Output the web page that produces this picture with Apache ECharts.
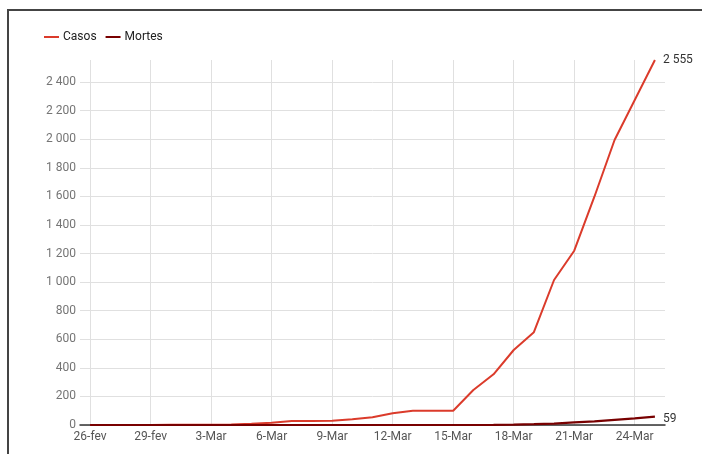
<!DOCTYPE html>
<html>
<head>
<meta charset="utf-8">
<script src="https://cdn.jsdelivr.net/npm/echarts@6/dist/echarts.min.js"></script>
<style>
html,body{margin:0;padding:0;background:#fff;}
#chart{width:702px;height:454px;}
</style>
</head>
<body>
<div id="chart"></div>
<script>
const categories = ['26-fev','27-fev','28-fev','29-fev','1-Mar','2-Mar','3-Mar','4-Mar','5-Mar','6-Mar','7-Mar','8-Mar','9-Mar','10-Mar','11-Mar','12-Mar','13-Mar','14-Mar','15-Mar','16-Mar','17-Mar','18-Mar','19-Mar','20-Mar','21-Mar','22-Mar','23-Mar','24-Mar','25-Mar'];
const casos = [0,0,0,0,1,1,2,4,8,15,28,28,30,40,54,82,100,100,100,245,355,525,650,1015,1220,1598,1995,2275,2555];
const mortes = [0,0,0,0,0,0,0,0,0,0,0,0,0,0,0,0,0,0,0,0,1,3,6,10,18,25,36,47,59];
const xTickIdx = [0,3,6,9,12,15,18,21,24,27];
const yTicks = [0,200,400,600,800,1000,1200,1400,1600,1800,2000,2200,2400];

function fmt(v){ return String(Math.round(v)).replace(/\B(?=(\d{3})+(?!\d))/g, ' '); }

const chart = echarts.init(document.getElementById('chart'));
const font = 'Roboto, Arial, sans-serif';
chart.setOption({
  animation: false,
  textStyle: {fontFamily: font},
  graphic: [{
    type: 'rect', z: -10, silent: true,
    shape: {x: 8, y: 10, width: 800, height: 600},
    style: {fill: 'none', stroke: '#444', lineWidth: 2}
  }],
  legend: {
    left: 39, top: 26,
    icon: 'rect', itemWidth: 15, itemHeight: 2, itemGap: 9,
    textStyle: {fontFamily: font, fontSize: 12, color: '#222', padding: [0,0,0,-1]},
    data: ['Casos', 'Mortes']
  },
  grid: {left: 80, right: 37, top: 60, bottom: 29, containLabel: false},
  xAxis: {
    type: 'value', min: -0.5, max: 28.5,
    axisLine: {show: true, onZero: false, lineStyle: {color: '#333', width: 1.5}},
    axisTick: {show: false, customValues: xTickIdx},
    axisLabel: {customValues: xTickIdx, color: '#555', fontSize: 12, fontFamily: font, margin: 6,
      formatter: v => categories[Math.round(v)] || ''},
    splitLine: {show: true, lineStyle: {color: '#e0e0e0', width: 1}}
  },
  yAxis: {
    type: 'value', min: 0, max: 2555,
    axisLine: {show: false},
    axisTick: {show: false, customValues: yTicks},
    axisLabel: {customValues: yTicks, color: '#757575', fontSize: 12, fontFamily: font, margin: 4,
      formatter: v => fmt(v)},
    splitLine: {show: true, lineStyle: {color: '#e0e0e0', width: 1}}
  },
  series: [
    {
      name: 'Casos', type: 'line', symbol: 'none',
      data: casos.map((v, i) => [i, v]),
      lineStyle: {color: '#db3b2b', width: 2},
      itemStyle: {color: '#db3b2b'},
      endLabel: {show: true, distance: 8, color: '#333', fontSize: 12, fontFamily: font,
        formatter: p => fmt(p.value[1])}
    },
    {
      name: 'Mortes', type: 'line', symbol: 'none',
      data: mortes.map((v, i) => [i, v]),
      lineStyle: {color: '#780000', width: 2.2},
      itemStyle: {color: '#780000'},
      endLabel: {show: true, distance: 8, offset: [0, 2], color: '#333', fontSize: 12, fontFamily: font,
        formatter: p => fmt(p.value[1])}
    }
  ]
});
</script>
</body>
</html>
